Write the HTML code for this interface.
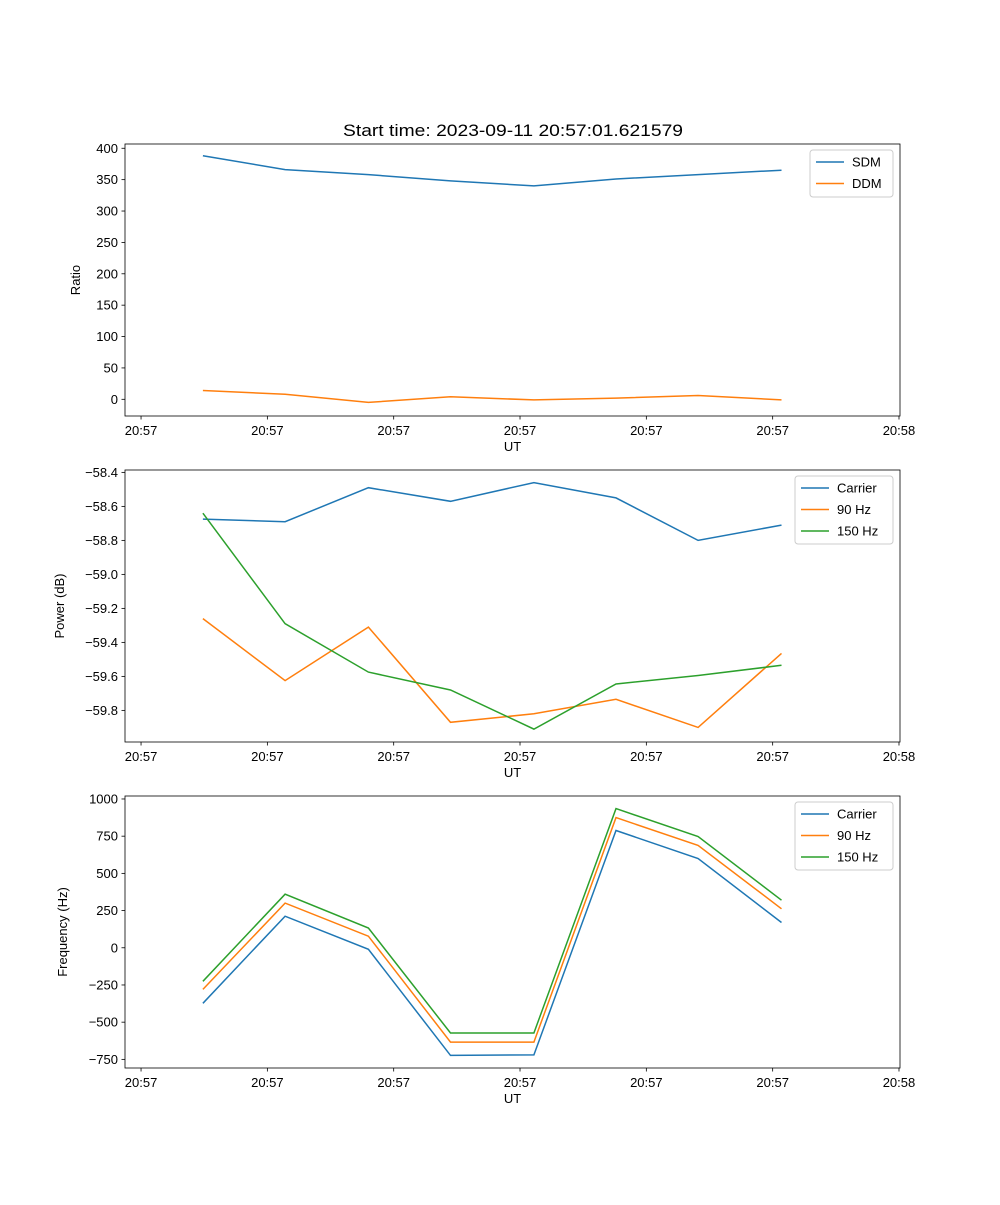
<!DOCTYPE html>
<html><head><meta charset="utf-8"><style>
body{margin:0;background:#fff;}
svg text{font-family:"Liberation Sans","DejaVu Sans",sans-serif;}
</style></head><body>
<svg id="fig" width="1000" height="1200" xmlns="http://www.w3.org/2000/svg">
<rect width="1000" height="1200" fill="#fff"/>
<text x="513" y="136" font-size="16.5" text-anchor="middle" textLength="340" lengthAdjust="spacingAndGlyphs">Start time: 2023-09-11 20:57:01.621579</text>
</svg>
<script>
const times = [4.9, 11.4, 18.0, 24.5, 31.1, 37.6, 44.1, 50.7];
const xTickSeconds = [0, 10, 20, 30, 40, 50, 60];
const xTickLabels = ["20:57","20:57","20:57","20:57","20:57","20:57","20:58"];
const sdm = [388, 366, 358, 348, 340, 351, 358, 365];
const ddm = [14, 8, -5, 4, -1, 2, 6, -1];
const powCarrier = [-58.675, -58.69, -58.49, -58.57, -58.46, -58.55, -58.80, -58.71];
const pow90 = [-59.26, -59.625, -59.31, -59.87, -59.82, -59.735, -59.90, -59.465];
const pow150 = [-58.64, -59.29, -59.575, -59.68, -59.91, -59.645, -59.595, -59.535];
const freqCarrier = [-373, 212, -10, -723, -720, 788, 600, 170];
const freq90 = [-280, 300, 78, -634, -634, 875, 688, 262];
const freq150 = [-225, 360, 133, -573, -573, 935, 748, 320];
const ticks1 = [0, 50, 100, 150, 200, 250, 300, 350, 400];
const ticks2 = [-59.8, -59.6, -59.4, -59.2, -59.0, -58.8, -58.6, -58.4];
const ticks3 = [-750, -500, -250, 0, 250, 500, 750, 1000];

const NS = "http://www.w3.org/2000/svg";
const svg = document.getElementById('fig');
const C = {blue:'#1f77b4', orange:'#ff7f0e', green:'#2ca02c'};
function mk(tag, attrs, parent){const e=document.createElementNS(NS,tag);for(const k in attrs)e.setAttribute(k,attrs[k]);(parent||svg).appendChild(e);return e;}
const L=125, R=900;
const xs = t => L + (t - (-1.27)) / (60.08 - (-1.27)) * (R - L);

function panel(id, top, bot, ymin, ymax, yticks, fmt, ylabel, series, legend){
  const ys = v => bot - (v - ymin) / (ymax - ymin) * (bot - top);
  const g = mk('g', {});
  
  
  series.forEach(s => {
    const p = mk('polyline', {points: s.vals.map((v,i)=>xs(times[i]).toFixed(1)+','+ys(v).toFixed(1)).join(' '), fill:'none', stroke:s.color, 'stroke-width':1.5}, g);
    
    
  });
  const fr = mk('rect', {x:L, y:top, width:R-L, height:bot-top, fill:'none', stroke:'#000', 'stroke-width':0.8}, g);
  
  
  yticks.forEach(v => {
    const y = ys(v);
    mk('line', {x1:L-3.5, x2:L, y1:y, y2:y, stroke:'#000', 'stroke-width':0.8}, g);
    const t = mk('text', {x:L-7, y:y+4.5, 'font-size':13, 'text-anchor':'end'}, g);
    t.textContent = fmt(v);
    
    
  });
  xTickSeconds.forEach((s,i) => {
    const x = xs(s);
    mk('line', {x1:x, x2:x, y1:bot, y2:bot+3.5, stroke:'#000', 'stroke-width':0.8}, g);
    const t = mk('text', {x:x, y:bot+19, 'font-size':13, 'text-anchor':'middle'}, g);
    t.textContent = xTickLabels[i];
    
    
  });
  const xl = mk('text', {x:(L+R)/2, y:bot+35, 'font-size':13, 'text-anchor':'middle'}, g);
  xl.textContent = 'UT';
  
  
  const cy = (top+bot)/2;
  const yl = mk('text', {x:ylabel.x, y:cy, 'font-size':13, 'text-anchor':'middle', transform:'rotate(-90 '+ylabel.x+' '+cy+')'}, g);
  yl.textContent = ylabel.text;
  
  
  const lg = mk('g', {}, g);
  
  
  mk('rect', {x:legend.x, y:top+6, width:893-legend.x, height:series.length*21+5, rx:3, fill:'#fff', stroke:'#ccc', 'stroke-width':1}, lg);
  series.forEach((s,i) => {
    const yy = top + 18 + i*21.5;
    mk('line', {x1:legend.x+6, x2:legend.x+34, y1:yy, y2:yy, stroke:s.color, 'stroke-width':1.5}, lg);
    const t = mk('text', {x:legend.x+42, y:yy+4.5, 'font-size':13}, lg);
    t.textContent = s.label;
    
    
  });
}
const minus = s => s.replace('-', '\u2212');
panel('ratio', 144, 416, -26.6, 406.8, ticks1, v=>minus(String(v)), {x:80, text:'Ratio'},
  [{key:'sdm', vals:sdm, color:C.blue, label:'SDM'}, {key:'ddm', vals:ddm, color:C.orange, label:'DDM'}], {x:810});
panel('power', 470, 742, -59.986, -58.386, ticks2, v=>minus(v.toFixed(1)), {x:64, text:'Power (dB)'},
  [{key:'carrier', vals:powCarrier, color:C.blue, label:'Carrier'}, {key:'90hz', vals:pow90, color:C.orange, label:'90 Hz'}, {key:'150hz', vals:pow150, color:C.green, label:'150 Hz'}], {x:795});
panel('frequency', 796, 1068, -808, 1020, ticks3, v=>minus(String(v)), {x:67, text:'Frequency (Hz)'},
  [{key:'carrier', vals:freqCarrier, color:C.blue, label:'Carrier'}, {key:'90hz', vals:freq90, color:C.orange, label:'90 Hz'}, {key:'150hz', vals:freq150, color:C.green, label:'150 Hz'}], {x:795});
</script>
</body></html>
